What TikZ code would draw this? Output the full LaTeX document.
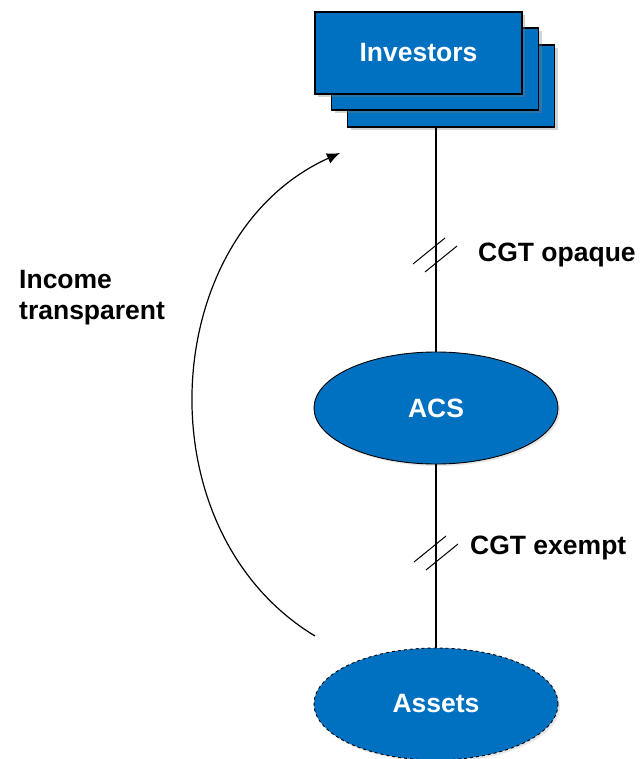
\documentclass[tikz,border=0pt]{standalone}
\usepackage{fontspec}
\setmainfont{Liberation Sans}
\usetikzlibrary{shapes.geometric,shadows,arrows.meta}
\definecolor{boxblue}{HTML}{0070C0}
\begin{document}
\begin{tikzpicture}[x=1pt,y=-1pt,
  font=\fontsize{26.5}{31}\selectfont\bfseries,
  card/.style={rectangle,draw=black,line width=1.1pt,fill=boxblue,
    minimum width=207pt,minimum height=82pt,inner sep=0pt,
    drop shadow={opacity=0.35,shadow xshift=3pt,shadow yshift=-3pt}},
  blob/.style={ellipse,draw=black,line width=0.9pt,fill=boxblue,
    minimum width=244pt,minimum height=112pt,inner sep=0pt,text=white,
    drop shadow={opacity=0.2,shadow xshift=2pt,shadow yshift=-2pt}},
  link/.style={draw=black,line width=1.2pt},
  hash/.style={draw=black,line width=1pt},
  tag/.style={anchor=west,inner sep=0pt}]
\useasboundingbox (0,0) rectangle (642,759);

% stacked investor cards
\node[card] (inv3) at (451,86) {};
\node[card] (inv2) at (435,69) {};
\node[card,text=white] (inv) at (418.5,53) {Investors};

% entities
\node[blob] (acs) at (436,408) {ACS};
\node[blob,dashed] (assets) at (436,704) {Assets};

% ownership links
\draw[link] (inv3.south -| acs.north) -- (acs.north);
\draw[link] (acs.south) -- (assets.north);

% break marks on the links
\coordinate (h1) at (435,255);
\coordinate (h2) at (436,553);
\foreach \c in {h1,h2}{
  \draw[hash] ([shift={(-22,9)}]\c) -- ([shift={(10,-17)}]\c);
  \draw[hash] ([shift={(-10,17)}]\c) -- ([shift={(22,-9)}]\c);
}
\node[tag] (opq) at (478,255) {CGT opaque};
\node[tag] (exm) at (470,548) {CGT exempt};

% income flow arrow
\coordinate (flowstart) at (315,636);
\coordinate (flowend) at (340,153);
\draw[link,-{Latex[length=13pt,width=11pt]}] (flowstart) .. controls (140,530) and (158,235) .. (flowend);
\node[anchor=north west,align=left,inner sep=0pt] (inc) at (19,270) {Income\\transparent};
\end{tikzpicture}
\end{document}
